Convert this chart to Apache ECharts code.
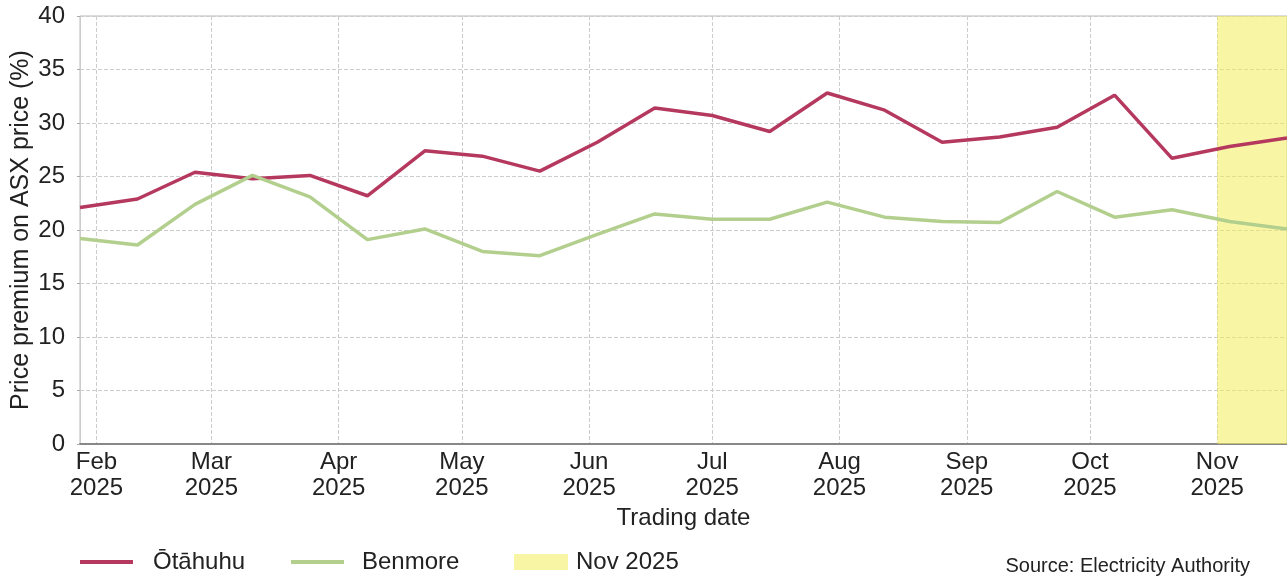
<!doctype html>
<html>
<head>
<meta charset="utf-8">
<title>Price premium on ASX price</title>
<script src="https://cdn.jsdelivr.net/npm/echarts@6/dist/echarts.min.js"></script>
<style type="text/css">
	html, body{margin:0; padding:0; background:#fff;}
	#chart{width:1287px; height:579px;}
</style>
</head>
<body>
<div id="chart"></div>
<script type="text/javascript">
// trading dates (fortnightly)
var dates = ['2025-01-28', '2025-02-11', '2025-02-25', '2025-03-11', '2025-03-25', '2025-04-08',
	'2025-04-22', '2025-05-06', '2025-05-20', '2025-06-03', '2025-06-17', '2025-07-01',
	'2025-07-15', '2025-07-29', '2025-08-12', '2025-08-26', '2025-09-09', '2025-09-23',
	'2025-10-07', '2025-10-21', '2025-11-04', '2025-11-18'];
var otahuhu = [22.1, 22.9, 25.4, 24.8, 25.1, 23.2, 27.4, 26.9, 25.5, 28.2, 31.4, 30.7,
	29.2, 32.8, 31.2, 28.2, 28.7, 29.6, 32.6, 26.7, 27.8, 28.6];
var benmore = [19.2, 18.6, 22.4, 25.1, 23.1, 19.1, 20.1, 18.0, 17.6, 19.6, 21.5, 21.0,
	21.0, 22.6, 21.2, 20.8, 20.7, 23.6, 21.2, 21.9, 20.8, 20.1];
var seriesNames = ['Ōtāhuhu', 'Benmore', 'Nov 2025'];
var highlight = ['2025-11-01', '2025-11-18'];
var monthNames = ['Jan', 'Feb', 'Mar', 'Apr', 'May', 'Jun', 'Jul', 'Aug', 'Sep', 'Oct', 'Nov', 'Dec'];

var font = '"Liberation Sans", Arial, sans-serif';
var DAY = 24 * 3600 * 1000;
var red = '#b5395f', green = '#b3cf8e', yellow = '#f8f6a4';

function pairs(vals){
	var out = [];
	for (var i = 0; i < dates.length; i++) out.push([dates[i], vals[i]]);
	return out;
}

var chart = echarts.init(document.getElementById('chart'));
var option = {
	animation: false,
	textStyle: {fontFamily: font},
	grid: {
		left: 80, right: 0, top: 16, bottom: 135,
		outerBoundsMode: 'none',
		containLabel: false,
		show: true, borderColor: '#bbb', borderWidth: 1
	},
	title: {
		text: 'Source: Electricity Authority',
		right: 32, top: 551,
		textStyle: {fontFamily: font, fontSize: 20, fontWeight: 'normal', color: '#222'}
	},
	legend: [
		{ // Ōtāhuhu
			left: 75, top: 545, itemWidth: 53, itemHeight: 4, selectedMode: false,
			data: [{name: seriesNames[0], icon: 'rect'}],
			textStyle: {fontFamily: font, fontSize: 24, color: '#222', padding: [0, 0, 0, 15]}
		},
		{ // Benmore
			left: 286, top: 545, itemWidth: 53, itemHeight: 4, selectedMode: false,
			data: [{name: seriesNames[1], icon: 'rect'}],
			textStyle: {fontFamily: font, fontSize: 24, color: '#222', padding: [0, 0, 0, 13]}
		},
		{ // highlighted month
			left: 509, top: 545, itemWidth: 54, itemHeight: 16, selectedMode: false,
			data: [{name: seriesNames[2], icon: 'rect', itemStyle: {color: yellow}}],
			textStyle: {fontFamily: font, fontSize: 24, color: '#222', padding: [0, 0, 0, 3]}
		}
	],
	xAxis: {
		type: 'time',
		min: dates[0],
		max: dates[dates.length - 1],
		minInterval: 28 * DAY,
		maxInterval: 31 * DAY,
		name: 'Trading date',
		nameLocation: 'middle',
		nameGap: 62,
		nameTextStyle: {fontFamily: font, fontSize: 24, color: '#222'},
		axisLine: {lineStyle: {color: '#888', width: 2}},
		axisTick: {show: false},
		axisLabel: {
			fontFamily: font, fontSize: 24, color: '#222', lineHeight: 26, margin: 5,
			showMinLabel: false, showMaxLabel: false,
			formatter: function(v){
				var d = new Date(v);
				return monthNames[d.getMonth()] + '\n' + d.getFullYear();
			}
		},
		splitLine: {show: true, lineStyle: {color: '#ccc', type: 'dashed', width: 1}}
	},
	yAxis: {
		type: 'value',
		min: 0, max: 40, interval: 5,
		name: 'Price premium on ASX price (%)',
		nameLocation: 'middle',
		nameGap: 46,
		nameMoveOverlap: false,
		nameTextStyle: {fontFamily: font, fontSize: 25, color: '#222'},
		axisLine: {show: true, lineStyle: {color: '#ccc', width: 1}},
		axisTick: {show: true, length: 3, lineStyle: {color: '#aaa'}},
		axisLabel: {fontFamily: font, fontSize: 24, color: '#222', margin: 15},
		splitLine: {lineStyle: {color: '#ccc', type: 'dashed', width: 1}}
	},
	series: [
		{
			name: seriesNames[2],
			type: 'line',
			data: [],
			color: yellow,
			symbol: 'none',
			markArea: {
				silent: true,
				itemStyle: {color: 'rgba(242,239,90,0.55)'},
				data: [[{xAxis: highlight[0]}, {xAxis: highlight[1]}]]
			}
		},
		{
			name: seriesNames[0],
			type: 'line',
			data: pairs(otahuhu),
			color: red,
			symbol: 'none',
			lineStyle: {width: 3.5, color: red}
		},
		{
			name: seriesNames[1],
			type: 'line',
			data: pairs(benmore),
			color: green,
			symbol: 'none',
			lineStyle: {width: 3.5, color: green}
		}
	]
};
chart.setOption(option);
</script>
</body>
</html>
